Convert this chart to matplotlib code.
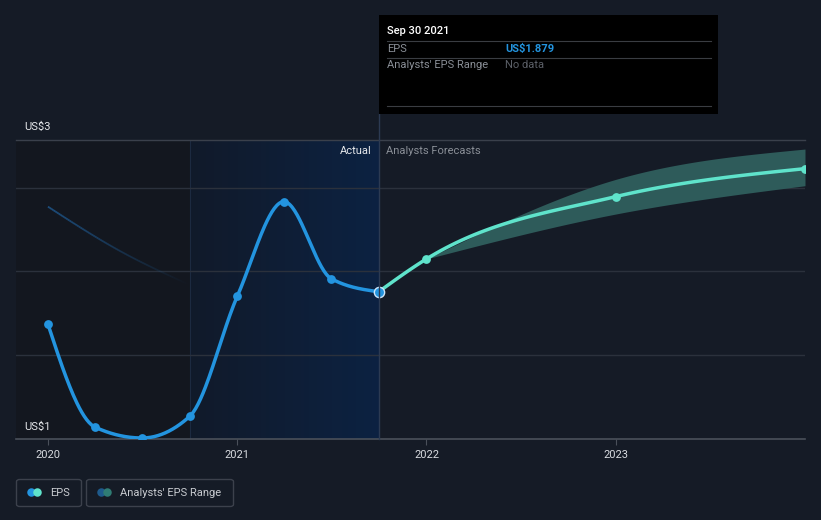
import numpy as np
import pandas as pd
import matplotlib
matplotlib.use("Agg")
import matplotlib.pyplot as plt
from matplotlib.collections import LineCollection
from matplotlib.colors import LinearSegmentedColormap
from matplotlib.patches import FancyBboxPatch, Rectangle, Ellipse

plt.rcParams['font.family'] = ['Roboto', 'DejaVu Sans']

# data (US$ per share)
actual_dates = ["2019-12-31", "2020-03-31", "2020-06-30", "2020-09-30",
                "2020-12-31", "2021-03-31", "2021-06-30", "2021-09-30"]
actual_eps = [1.685, 1.071, 1.006, 1.135, 1.851, 2.417, 1.958, 1.879]

forecast_dates = ["2021-12-31", "2022-12-31", "2023-12-31"]
forecast_eps = [2.075, 2.447, 2.614]
forecast_low = [2.075, 2.343, 2.512]
forecast_high = [2.075, 2.55, 2.731]

old_forecast_dates = ["2019-12-31", "2020-05-15", "2020-09-30"]
old_forecast_eps = [2.387, 2.128, 1.920]

year_ticks = [2020, 2021, 2022, 2023]

BG = "#151b26"
BLUE = "#2394df"
TEAL = "#5fe3cb"


def dec_year(dates):
    d = pd.to_datetime(pd.Series(dates))
    days = np.where(d.dt.is_leap_year, 366, 365)
    return (d.dt.year + (d.dt.dayofyear) / days).to_numpy(dtype=float)


def monotone(x, y, n=40):
    # monotone cubic, like d3 curveMonotoneX
    x = np.asarray(x, float)
    y = np.asarray(y, float)
    h = np.diff(x)
    s = np.diff(y) / h
    m = np.zeros(len(x))
    for i in range(1, len(x) - 1):
        p = (s[i - 1] * h[i] + s[i] * h[i - 1]) / (h[i - 1] + h[i])
        m[i] = (np.sign(s[i - 1]) + np.sign(s[i])) * min(abs(s[i - 1]), abs(s[i]), 0.5 * abs(p))
    if len(x) > 2:
        m[0] = (3 * s[0] - m[1]) / 2
        m[-1] = (3 * s[-1] - m[-2]) / 2
    else:
        m[:] = s[0]
    xs, ys = [], []
    for i in range(len(x) - 1):
        t = np.linspace(0, 1, n)
        h00 = 2 * t**3 - 3 * t**2 + 1
        h10 = t**3 - 2 * t**2 + t
        h01 = -2 * t**3 + 3 * t**2
        h11 = t**3 - t**2
        xs.append(x[i] + t * h[i])
        ys.append(h00 * y[i] + h10 * h[i] * m[i] + h01 * y[i + 1] + h11 * h[i] * m[i + 1])
    return np.concatenate(xs), np.concatenate(ys)


W, H = 821, 520
fig = plt.figure(figsize=(W / 100, H / 100), dpi=100)
fig.patch.set_facecolor(BG)


def px(x, y):
    return x / W, 1 - y / H


ax = fig.add_axes([16 / W, (H - 439) / H, (805 - 16) / W, (439 - 139.5) / H])
ax.set_facecolor(BG)

ax_x = dec_year(actual_dates)
fx = dec_year(forecast_dates)
ox = dec_year(old_forecast_dates)

x_left = 2020 - 32 / 189.5
x_right = fx[-1]
y_bot, y_top = 1.0, 2.788
ax.set_xlim(x_left, x_right)
ax.set_ylim(y_bot, y_top)

# background regions
hl_start = ax_x[3]
hl_end = ax_x[-1]
ax.axvspan(x_left, hl_start, color="#13171f", zorder=0, lw=0)
grad = np.linspace(0, 1, 256).reshape(1, -1)
cmap = LinearSegmentedColormap.from_list("hl", ["#111a2a", "#0c2242"])
ax.imshow(grad, extent=[hl_start, hl_end, y_bot, y_top], aspect="auto", cmap=cmap, zorder=0.5)
ax.axvline(hl_start, color="#1c2a40", lw=0.8, zorder=0.6)

# grid
for g in [1.5, 2.0, 2.5]:
    ax.axhline(g, color="#2b313c", lw=1, zorder=1)
ax.axhline(y_top, color="#3a404b", lw=1, zorder=1, clip_on=False)
ax.axhline(y_bot, color="#4a505a", lw=1.2, zorder=1, clip_on=False)

# old forecast fading line
sx, sy = monotone(ox, old_forecast_eps)
pts = np.column_stack([sx, sy]).reshape(-1, 1, 2)
segs = np.concatenate([pts[:-1], pts[1:]], axis=1)
alphas = np.linspace(0.7, 0.0, len(segs))
cols = [(0.13, 0.40, 0.65, a) for a in alphas]
ax.add_collection(LineCollection(segs, colors=cols, linewidths=1.3, zorder=2))

# forecast band
bx, bl = monotone(fx, forecast_low)
_, bh = monotone(fx, forecast_high)
ax.fill_between(bx, bl, bh, color="#2e5b5a", lw=0, zorder=2)

# forecast line
fxx, fyy = monotone(np.concatenate([[ax_x[-1]], fx]), [actual_eps[-1]] + forecast_eps)
ax.plot(fxx, fyy, color=TEAL, lw=2.5, zorder=3, solid_capstyle="round")
ax.scatter(fx, forecast_eps, s=40, color=TEAL, zorder=4, lw=0)

# actual line
axx, ayy = monotone(ax_x, actual_eps)
ax.plot(axx, ayy, color=BLUE, lw=2.5, zorder=3, solid_capstyle="round")
ax.scatter(ax_x[:-1], actual_eps[:-1], s=40, color=BLUE, zorder=4, lw=0)
ax.scatter(ax_x[-1:], actual_eps[-1:], s=55, color=BLUE, edgecolor="#cfe6fa", lw=1.0, zorder=5)

ax.set_xticks(year_ticks)
ax.set_xticklabels([str(y) for y in year_ticks], color="#d8dbe0", fontsize=8)
ax.tick_params(axis="x", length=4, color="#4a505a", pad=4)
ax.set_yticks([])
for sp in ax.spines.values():
    sp.set_visible(False)

# vertical "now" line up to the tooltip
fig.add_artist(plt.Line2D([379 / W, 379 / W], [1 - 439 / H, 1 - 114 / H], color="#2c3a52", lw=1))

ax.text(hl_end - 0.04, 2.72, "Actual", color="#e6e8eb", fontsize=8, ha="right", va="center", zorder=6)
ax.text(hl_end + 0.04, 2.72, "Analysts Forecasts", color="#8a8f97", fontsize=8, ha="left", va="center", zorder=6)

fig.text(*px(24, 127), "US$3", color="#e6e8eb", fontsize=8, va="center")
fig.text(*px(24, 427), "US$1", color="#e6e8eb", fontsize=8, va="center")

# tooltip
fig.patches.append(Rectangle(px(379, 114), 339 / W, 99 / H, transform=fig.transFigure,
                             facecolor="#000000", edgecolor="none", zorder=10))
for yy in [40.5, 57.5, 106]:
    fig.add_artist(plt.Line2D([387 / W, 711 / W], [1 - yy / H] * 2, color="#3a3d42", lw=0.8, zorder=11))
fig.text(*px(387, 31), "Sep 30 2021", color="#ffffff", fontsize=8, va="center", weight="medium", zorder=12)
fig.text(*px(387, 48.5), "EPS", color="#8a8f97", fontsize=8, va="center", zorder=12)
fig.text(*px(505, 48.5), "US$1.879", color=BLUE, fontsize=8, va="center", weight="bold", zorder=12)
fig.text(*px(387, 65), "Analysts' EPS Range", color="#8a8f97", fontsize=8, va="center", zorder=12)
fig.text(*px(505, 65), "No data", color="#5c6068", fontsize=8, va="center", zorder=12)

# legend
for (x0, x1) in [(16.5, 81.5), (86.5, 233.5)]:
    fig.patches.append(FancyBboxPatch(px(x0, 506.5), (x1 - x0) / W, 27 / H,
                                      boxstyle="round,pad=0,rounding_size=0.004",
                                      transform=fig.transFigure, facecolor="none",
                                      edgecolor="#3c414c", lw=1))
d = 8.5
for cx, c in [(31.5, BLUE), (37.5, TEAL), (101.5, "#1e5a8c"), (107.5, "#2f7c74")]:
    fig.patches.append(Ellipse(px(cx, 492.5), d / W, d / H, transform=fig.transFigure,
                               facecolor=c, edgecolor="none"))
fig.text(*px(50, 492.5), "EPS", color="#c8cbd0", fontsize=8, va="center")
fig.text(*px(120, 492.5), "Analysts' EPS Range", color="#c8cbd0", fontsize=8, va="center")

fig.savefig("out.png", dpi=100, facecolor=BG)
